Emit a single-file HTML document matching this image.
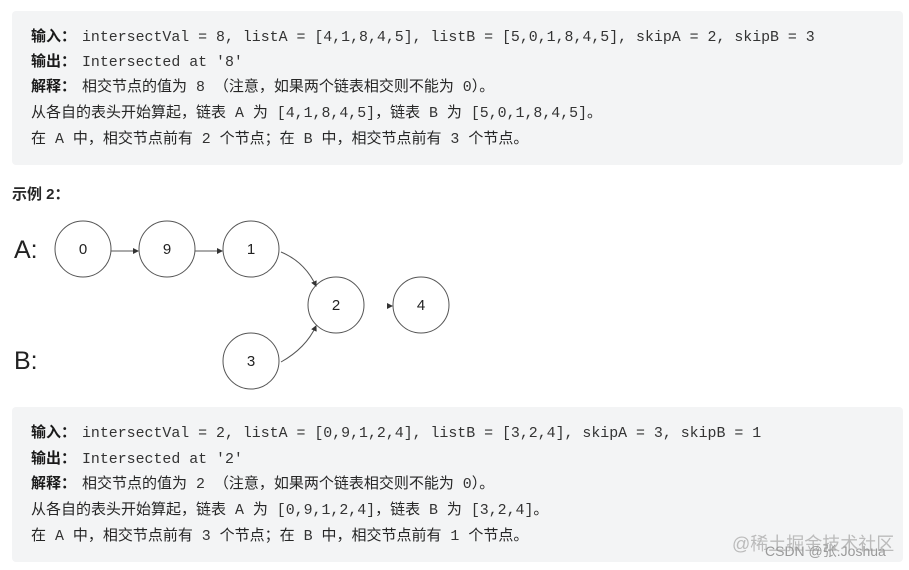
<!DOCTYPE html>
<html><head><meta charset="utf-8"><style>
body{margin:0;width:909px;height:570px;background:#fff;position:relative;overflow:hidden;font-family:"Liberation Sans","Noto Sans CJK SC",sans-serif;color:#262626}
.box{position:absolute;left:12px;width:891px;background:#f3f4f5;border-radius:4px}
.ln{position:absolute;left:31px;font-size:15px;line-height:20px;white-space:pre}
.ln b{color:#1a1a1a;display:inline-block;width:51px}
.m{font-family:"Liberation Mono",monospace;font-size:14.9px;color:#333}
</style></head><body>
<div class="box" style="top:11px;height:154px"></div>
<div class="box" style="top:407px;height:155px"></div>
<div class="ln" style="top:27px"><b>输入：</b><span class="m">intersectVal = 8, listA = [4,1,8,4,5], listB = [5,0,1,8,4,5], skipA = 2, skipB = 3</span></div>
<div class="ln" style="top:52px"><b>输出：</b><span class="m">Intersected at '8'</span></div>
<div class="ln" style="top:77px"><b>解释：</b>相交节点的值为<span class="m"> 8 </span>（注意，如果两个链表相交则不能为<span class="m"> 0</span>）。</div>
<div class="ln" style="top:103px">从各自的表头开始算起，链表<span class="m"> A </span>为<span class="m"> [4,1,8,4,5]</span>，链表<span class="m"> B </span>为<span class="m"> [5,0,1,8,4,5]</span>。</div>
<div class="ln" style="top:129px">在<span class="m"> A </span>中，相交节点前有<span class="m"> 2 </span>个节点；在<span class="m"> B </span>中，相交节点前有<span class="m"> 3 </span>个节点。</div>
<div class="ln" style="left:12px;top:185px;font-weight:bold">示例 2：</div>
<div class="ln" style="top:423px"><b>输入：</b><span class="m">intersectVal = 2, listA = [0,9,1,2,4], listB = [3,2,4], skipA = 3, skipB = 1</span></div>
<div class="ln" style="top:449px"><b>输出：</b><span class="m">Intersected at '2'</span></div>
<div class="ln" style="top:474px"><b>解释：</b>相交节点的值为<span class="m"> 2 </span>（注意，如果两个链表相交则不能为<span class="m"> 0</span>）。</div>
<div class="ln" style="top:500px">从各自的表头开始算起，链表<span class="m"> A </span>为<span class="m"> [0,9,1,2,4]</span>，链表<span class="m"> B </span>为<span class="m"> [3,2,4]</span>。</div>
<div class="ln" style="top:526px">在<span class="m"> A </span>中，相交节点前有<span class="m"> 3 </span>个节点；在<span class="m"> B </span>中，相交节点前有<span class="m"> 1 </span>个节点。</div>
<svg style="position:absolute;left:0;top:0" width="909" height="570">
<defs><marker id="a" markerWidth="6" markerHeight="6" refX="5" refY="3" orient="auto"><path d="M0,0L6,3L0,6z" fill="#333"/></marker></defs>
<g fill="none" stroke="#555" stroke-width="1">
<circle cx="83" cy="249" r="28"/><circle cx="167" cy="249" r="28"/><circle cx="251" cy="249" r="28"/>
<circle cx="336" cy="305" r="28"/><circle cx="421" cy="305" r="28"/><circle cx="251" cy="361" r="28"/>
<line x1="111" y1="251" x2="138" y2="251" marker-end="url(#a)"/>
<line x1="195" y1="251" x2="222" y2="251" marker-end="url(#a)"/>
<path d="M281,252 Q305,262 316,286" marker-end="url(#a)"/>
<path d="M281,362 Q306,348 316,326" marker-end="url(#a)"/>
<line x1="387" y1="306" x2="392" y2="306" marker-end="url(#a)"/>
</g>
<g font-family="Liberation Sans,sans-serif" font-size="15" fill="#222" text-anchor="middle">
<text x="83" y="254">0</text><text x="167" y="254">9</text><text x="251" y="254">1</text>
<text x="336" y="310">2</text><text x="421" y="310">4</text><text x="251" y="366">3</text>
</g>
<text x="14" y="258" font-family="Liberation Sans,sans-serif" font-size="25" fill="#222">A:</text>
<text x="14" y="369" font-family="Liberation Sans,sans-serif" font-size="25" fill="#222">B:</text>
<text x="732" y="550" font-family="Liberation Sans,Noto Sans CJK SC,sans-serif" font-size="18" fill="#bbb">@稀土掘金技术社区</text>
<text x="765" y="556" font-family="Liberation Sans,Noto Sans CJK SC,sans-serif" font-size="14" fill="#999">CSDN @张.Joshua</text>
</svg>
</body></html>
